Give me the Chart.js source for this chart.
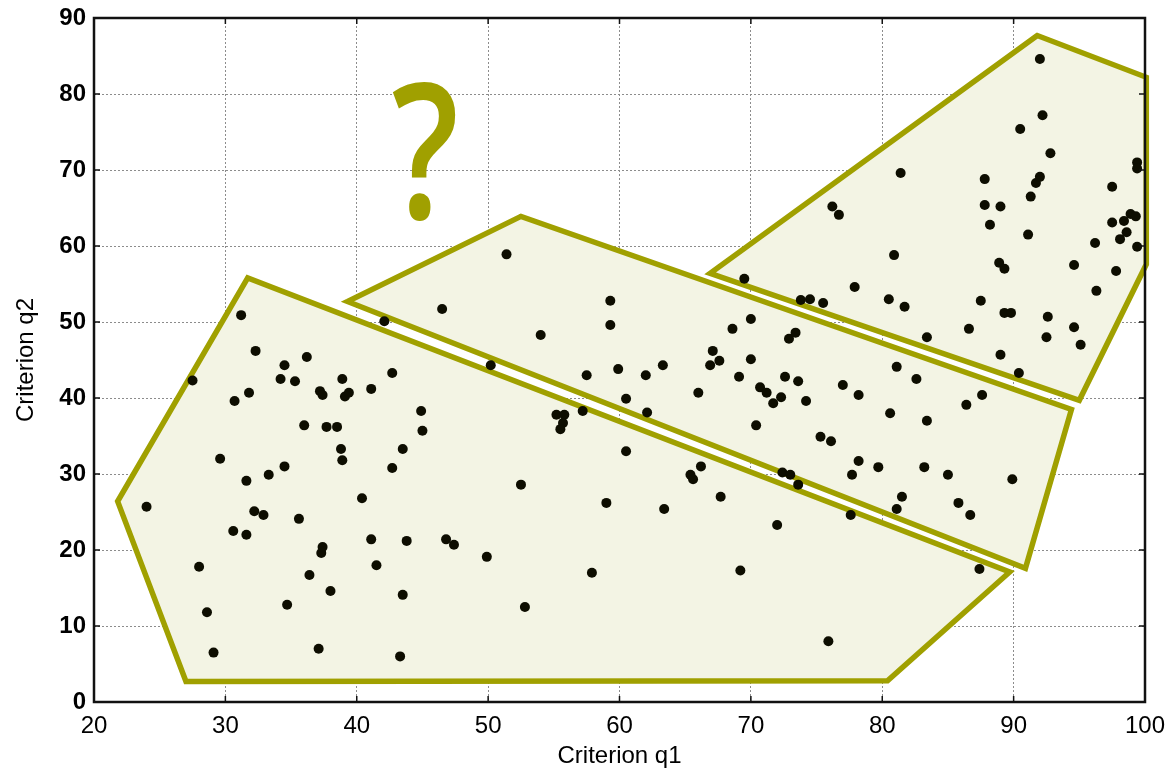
<!DOCTYPE html>
<html>
<head>
<meta charset="utf-8">
<script src="https://cdn.jsdelivr.net/npm/chart.js@4.4.1/dist/chart.umd.min.js"></script>
<style>
  html, body { margin: 0; padding: 0; background: #ffffff; }
  #wrap { width: 1168px; height: 774px; }
</style>
</head>
<body>
<div id="wrap"><canvas id="c" width="1168" height="774"></canvas></div>
<script>
// ---- data ----
const xTicks = [20, 30, 40, 50, 60, 70, 80, 90, 100];
const yTicks = [0, 10, 20, 30, 40, 50, 60, 70, 80, 90];

const q1 = [24.0,27.5,28.0,28.6,29.1,29.6,30.7,30.6,31.2,31.6,31.6,31.8,32.3,32.2,32.9,33.3,34.2,34.5,34.5,34.7,
  35.3,35.6,36.0,36.2,36.4,37.1,37.2,37.4,37.3,37.4,37.7,38.0,38.5,38.8,38.9,38.9,39.1,39.4,40.4,41.1,
  41.1,41.5,42.1,42.7,42.7,43.5,43.5,43.3,43.8,44.9,45.0,46.5,46.8,47.4,49.9,50.2,51.4,52.5,52.8,54.0,
  55.2,55.8,55.7,55.5,57.2,57.5,57.9,59.0,59.3,59.3,59.9,60.5,60.5,62.0,62.1,63.3,63.4,65.4,65.6,66.0,
  66.2,66.9,67.1,67.6,67.7,68.6,69.1,69.2,69.5,70.0,70.0,70.4,70.7,71.2,71.7,72.0,72.3,72.4,72.6,72.9,
  73.0,73.4,73.6,73.6,73.8,74.2,74.5,75.3,75.5,75.9,76.1,76.2,76.7,77.0,77.6,77.7,77.9,78.2,78.2,79.7,
  80.5,80.6,80.9,81.1,81.1,81.4,81.5,81.7,82.6,83.2,83.4,83.4,85.0,85.8,86.4,86.6,86.7,87.4,87.5,87.6,
  87.8,87.8,88.2,88.9,89.0,89.0,89.3,89.3,89.8,89.9,90.4,90.5,91.1,91.3,91.7,92.0,92.0,92.2,92.5,92.6,
  92.8,94.6,94.6,95.1,96.2,96.3,97.5,97.5,97.8,98.1,98.4,98.6,98.9,99.3,99.4,99.4,99.4];
const q2 = [25.7,42.3,17.8,11.8,6.5,32.0,39.6,22.5,50.9,29.1,22.0,40.7,46.2,25.1,24.6,29.9,42.5,44.3,31.0,12.8,
  42.2,24.1,36.4,45.4,16.7,7.0,40.9,40.4,19.6,20.4,36.2,14.6,36.2,33.3,42.5,31.8,40.2,40.7,26.8,41.2,
  21.4,18.0,50.1,30.8,43.3,33.3,14.1,6.0,21.2,38.3,35.7,51.7,21.4,20.7,19.1,44.3,58.9,28.6,12.5,48.3,
  37.8,37.8,36.7,35.9,38.3,43.0,17.0,26.2,52.8,49.6,43.8,39.9,33.0,43.0,38.1,44.3,25.4,29.9,29.3,40.7,
  31.0,44.3,46.2,44.9,27.0,49.1,42.8,17.3,55.7,50.4,45.1,36.4,41.4,40.7,39.3,23.3,40.1,30.2,42.8,47.8,
  29.9,48.6,42.2,28.6,52.9,39.6,53.0,34.9,52.5,8.0,34.3,65.2,64.1,41.7,24.6,29.9,54.6,40.4,31.7,30.9,
  53.0,38.0,58.8,44.1,25.4,69.6,27.0,52.0,42.5,30.9,48.0,37.0,29.9,26.2,39.1,49.1,24.6,17.5,52.8,40.4,
  68.8,65.4,62.8,57.8,65.2,45.7,57.0,51.2,51.2,29.3,43.3,75.4,61.5,66.5,68.3,69.1,84.6,77.2,48.0,50.7,
  72.2,57.5,49.3,47.0,60.4,54.1,67.8,63.1,56.7,60.9,63.3,61.8,64.2,63.9,59.9,71.0,70.2];

// polygon vertices (q1, q2)
const lowerX = [31.7, 21.8, 27.0, 80.4, 89.7];
const lowerY = [55.8, 26.4, 2.7, 2.8, 17.1];
const middleX = [39.3, 52.5, 94.4, 90.9];
const middleY = [52.7, 63.9, 38.5, 17.6];
const upperX = [66.9, 91.8, 100.1, 100.1, 95.0];
const upperY = [56.4, 87.7, 82.2, 57.6, 39.7];

// "?" annotation box in data units
const markText = '?';
const markBoxQ1 = [42.7, 47.5];
const markBoxQ2 = [63.2, 81.6];

// ---- styles ----
const OLIVE = '#a0a000';
const FILL = 'rgba(243,244,228,1)';

function pts(xs, ys) { return xs.map((x, i) => ({ x: x, y: ys[i] })); }
function closedPoly(xs, ys) {
  const p = pts(xs, ys);
  return p.concat([p[0], p[1]]);
}
function polyDataset(xs, ys) {
  return {
    data: closedPoly(xs, ys),
    showLine: true,
    borderColor: OLIVE,
    backgroundColor: FILL,
    borderWidth: 5.5,
    borderJoinStyle: 'miter',
    fill: 'shape',
    tension: 0,
    pointRadius: 0,
    pointHoverRadius: 0,
    clip: false
  };
}

const framePlugin = {
  id: 'frame',
  beforeDatasetsDraw(chart) {
    const { ctx, scales } = chart;
    const x0 = scales.x.getPixelForValue(markBoxQ1[0]);
    const x1 = scales.x.getPixelForValue(markBoxQ1[1]);
    const y0 = scales.y.getPixelForValue(markBoxQ2[1]);
    const y1 = scales.y.getPixelForValue(markBoxQ2[0]);
    ctx.save();
    ctx.fillStyle = OLIVE;
    ctx.font = '600 200px "Open Sans"';
    ctx.textAlign = 'left';
    ctx.textBaseline = 'alphabetic';
    const m = ctx.measureText(markText);
    const w = m.actualBoundingBoxLeft + m.actualBoundingBoxRight;
    const h = m.actualBoundingBoxAscent + m.actualBoundingBoxDescent;
    ctx.translate(x0, y0);
    ctx.scale((x1 - x0) / w, (y1 - y0) / h);
    ctx.fillText(markText, m.actualBoundingBoxLeft, m.actualBoundingBoxAscent);
    ctx.restore();
  },
  afterDatasetsDraw(chart) {
    const { ctx, chartArea: a, scales } = chart;
    ctx.save();
    ctx.strokeStyle = '#111';
    ctx.lineWidth = 1.5;
    ctx.beginPath();
    scales.y.ticks.forEach(t => {
      const py = scales.y.getPixelForValue(t.value);
      ctx.moveTo(a.left, py); ctx.lineTo(a.left + 6, py);
      ctx.moveTo(a.right, py); ctx.lineTo(a.right - 6, py);
    });
    scales.x.ticks.forEach(t => {
      const px = scales.x.getPixelForValue(t.value);
      ctx.moveTo(px, a.bottom); ctx.lineTo(px, a.bottom - 6);
      ctx.moveTo(px, a.top); ctx.lineTo(px, a.top + 6);
    });
    ctx.stroke();
    ctx.lineWidth = 2.5;
    ctx.strokeRect(a.left, a.top, a.right - a.left, a.bottom - a.top);
    ctx.restore();
  }
};

new Chart(document.getElementById('c'), {
  type: 'scatter',
  data: {
    datasets: [
      {
        data: pts(q1, q2),
        backgroundColor: '#0d0d00',
        borderColor: '#0d0d00',
        pointRadius: 5,
        pointBorderWidth: 0,
        showLine: false
      },
      polyDataset(lowerX, lowerY),
      polyDataset(middleX, middleY),
      polyDataset(upperX, upperY)
    ]
  },
  options: {
    responsive: false,
    devicePixelRatio: 1,
    animation: false,
    layout: { padding: { left: 0, right: 23, top: 18, bottom: 0 } },
    plugins: { legend: { display: false }, tooltip: { enabled: false } },
    scales: {
      x: {
        type: 'linear',
        min: 20, max: 100,
        afterBuildTicks(s) { s.ticks = xTicks.map(v => ({ value: v })); },
        afterFit(s) { s.height = 72; s.paddingLeft = 0; s.paddingRight = 0; },
        ticks: { color: '#000', font: { family: 'Liberation Sans, Arial', size: 24 }, padding: 10 },
        grid: { color: '#8c8c8c', lineWidth: 1, drawTicks: false },
        border: { display: false, dash: [2, 2] },
        title: { display: true, text: 'Criterion q1', color: '#000',
                 font: { family: 'Liberation Sans, Arial', size: 24 }, padding: { top: 0, bottom: 3 } }
      },
      y: {
        type: 'linear',
        min: 0, max: 90,
        afterBuildTicks(s) { s.ticks = yTicks.map(v => ({ value: v })); },
        afterFit(s) { s.width = 94; s.paddingTop = 0; s.paddingBottom = 0; },
        ticks: { color: '#000', font: { family: 'Liberation Sans, Arial', size: 24, weight: 'bold' }, padding: 8 },
        grid: { color: '#8c8c8c', lineWidth: 1, drawTicks: false },
        border: { display: false, dash: [2, 2] },
        title: { display: true, text: 'Criterion q2', color: '#000',
                 font: { family: 'Liberation Sans, Arial', size: 24 }, padding: { top: 12, bottom: 0 } }
      }
    }
  },
  plugins: [framePlugin]
});
</script>
</body>
</html>
